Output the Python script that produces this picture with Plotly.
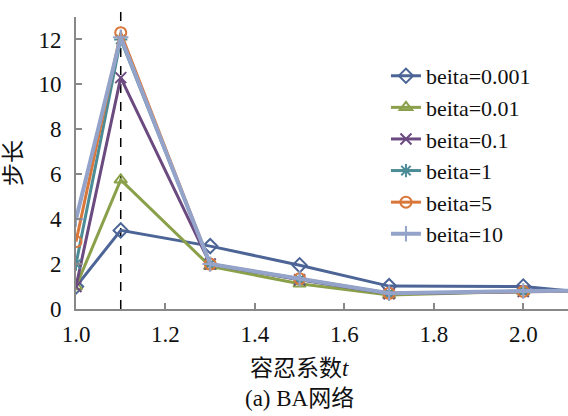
import plotly.graph_objects as go

t_values = [1.0, 1.1, 1.3, 1.5, 1.7, 2.0, 2.2]
series_names = ["beita=0.001", "beita=0.01", "beita=0.1", "beita=1", "beita=5", "beita=10"]
beita_0001 = [1.0, 3.5, 2.8, 1.95, 1.02, 1.0, 0.62]
beita_001 = [1.0, 5.75, 1.9, 1.12, 0.62, 0.78, 0.82]
beita_01 = [1.0, 10.3, 2.0, 1.3, 0.68, 0.78, 0.82]
beita_1 = [2.0, 12.0, 2.0, 1.32, 0.7, 0.78, 0.82]
beita_5 = [3.0, 12.3, 2.0, 1.35, 0.7, 0.78, 0.82]
beita_10 = [4.0, 12.1, 2.0, 1.35, 0.7, 0.8, 0.82]
threshold_t = 1.1
x_ticks = [1.0, 1.2, 1.4, 1.6, 1.8, 2.0]
y_ticks = [0, 2, 4, 6, 8, 10, 12]

all_series = [beita_0001, beita_001, beita_01, beita_1, beita_5, beita_10]
colors = ["#4C6596", "#8AA04A", "#6B4A80", "#4C8C96", "#D9773A", "#94A3C9"]
symbols = ["diamond-open", "triangle-up-open", "x-thin-open", "asterisk-open", "circle-open", "cross-thin-open"]
widths = [3, 3, 3, 3, 3, 4]

font_family = "'Liberation Serif', 'Times New Roman', 'DejaVu Serif', 'Noto Sans CJK SC', serif"

fig = go.Figure()
for name, ys, c, s, w in zip(series_names, all_series, colors, symbols, widths):
    fig.add_trace(go.Scatter(
        x=t_values, y=ys, name=name, mode="lines+markers",
        line=dict(color=c, width=w),
        marker=dict(symbol=s, size=11, color=c, line=dict(color=c, width=2)),
    ))

fig.add_shape(type="line", xref="x", yref="paper", x0=threshold_t, x1=threshold_t, y0=0, y1=1.04,
              line=dict(color="black", width=1.5, dash="dash"), layer="below")

fig.update_layout(
    width=568, height=416,
    margin=dict(l=76, r=0, t=17, b=107, autoexpand=False),
    paper_bgcolor="white", plot_bgcolor="white",
    font=dict(family=font_family, size=23, color="#111111"),
    showlegend=True,
    legend=dict(x=0.63, y=0.87, xanchor="left", yanchor="top", bgcolor="rgba(0,0,0,0)",
                font=dict(size=22), tracegroupgap=0),
    xaxis=dict(range=[1.0, 2.1], tickvals=x_ticks, ticktext=[f"{v:.1f}" for v in x_ticks],
               ticks="inside", ticklen=6, tickcolor="#888888", tickwidth=2, automargin=False,
               showline=True, linecolor="#888888", linewidth=2, showgrid=False, zeroline=False,
               ticklabelstandoff=3),
    yaxis=dict(range=[0, 13], tickvals=y_ticks, ticks="inside", ticklen=6, tickcolor="#888888", tickwidth=2,
               showline=True, linecolor="#888888", linewidth=2, showgrid=False, zeroline=False,
               ticklabelstandoff=8, automargin=False,
               title=dict(text="步长", standoff=10, font=dict(size=23))),
)

fig.add_annotation(text="容忍系数<i>t</i>", xref="paper", yref="paper", x=0.455, y=-0.205,
                   xanchor="center", yanchor="middle", showarrow=False, font=dict(size=23))
fig.add_annotation(text="(a) BA网络", xref="paper", yref="paper", x=0.455, y=-0.305,
                   xanchor="center", yanchor="middle", showarrow=False, font=dict(size=23))

fig.write_html("out.html", config={"displayModeBar": False},
               post_script="document.body.style.margin='0';document.body.style.padding='0';")
